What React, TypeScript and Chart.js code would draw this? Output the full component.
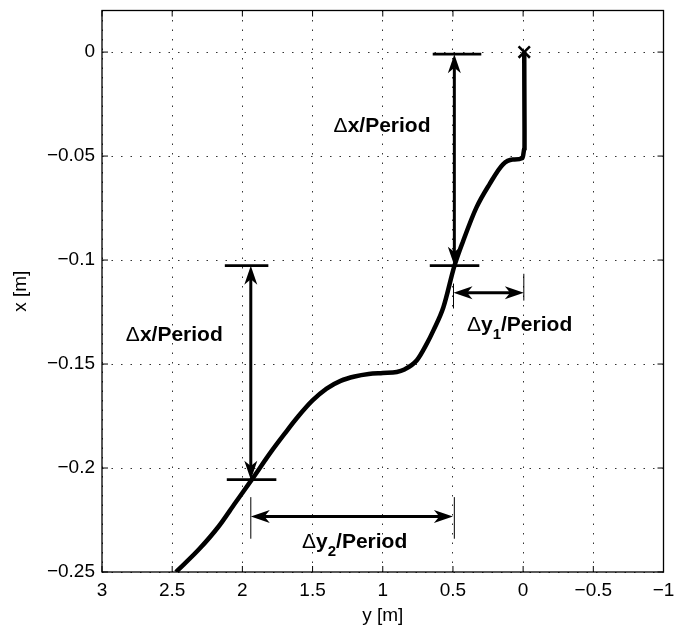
import React, { useEffect, useRef } from "react";
import { Chart, registerables } from "chart.js";

Chart.register(...registerables);

// Axis ticks
const xTicks = [3, 2.5, 2, 1.5, 1, 0.5, 0, -0.5, -1];
const yTicks = [0, -0.05, -0.1, -0.15, -0.2, -0.25];

// Trajectory: horizontal axis "y [m]", vertical axis "x [m]"
const trajY = [2.473, 2.309, 2.168, 2.05, 1.933, 1.8, 1.7, 1.6, 1.5, 1.4, 1.3, 1.2, 1.1, 1.0, 0.9, 0.85, 0.757, 0.686, 0.639, 0.568, 0.489, 0.427, 0.333, 0.24, 0.145, 0.074, 0.004, -0.01, -0.01, -0.008];
const trajX = [-0.25, -0.2391, -0.228, -0.2167, -0.2056, -0.1926, -0.1836, -0.175, -0.1675, -0.1618, -0.1581, -0.156, -0.1548, -0.1543, -0.1538, -0.1528, -0.1482, -0.1402, -0.1338, -0.1227, -0.1027, -0.0908, -0.0748, -0.0636, -0.0541, -0.0517, -0.0509, -0.0461, -0.038, 0];

// End marker
const endY = [-0.008];
const endX = [0];

// Annotation geometry (data coordinates: [y1, x1, y2, x2])
const arrowSegs = [
  [0.49, -0.001, 0.49, -0.1027],
  [1.94, -0.1027, 1.94, -0.2056],
  [1.94, -0.2233, 0.5, -0.2233],
  [0.496, -0.1157, -0.005, -0.1157],
];
const barSegs = [
  [0.644, -0.001, 0.298, -0.001],
  [0.665, -0.1027, 0.312, -0.1027],
  [2.125, -0.1027, 1.815, -0.1027],
  [2.111, -0.2056, 1.758, -0.2056],
];
const thinSegs = [
  [1.94, -0.214, 1.94, -0.234],
  [0.49, -0.214, 0.49, -0.234],
  [0.496, -0.1113, 0.496, -0.1233],
  [-0.005, -0.1066, -0.005, -0.1195],
];

// Labels (left edge, baseline)
const labelMain = ["Δx/Period", "Δx/Period", "Δy", "Δy"];
const labelSub = ["", "", "1", "2"];
const labelRest = ["", "", "/Period", "/Period"];
const labelY = [1.35, 2.83, 0.40, 1.575];
const labelX = [-0.0382, -0.1391, -0.134, -0.2383];

const FAMILY = "'Liberation Sans', Arial, Helvetica, sans-serif";

const fmt = (v: number) => (v < 0 ? "\u2212" : "") + String(Math.abs(v));

function head(ctx: CanvasRenderingContext2D, tx: number, ty: number, fx: number, fy: number, L: number, W: number) {
  const ang = Math.atan2(ty - fy, tx - fx);
  ctx.save();
  ctx.translate(tx, ty);
  ctx.rotate(ang);
  ctx.beginPath();
  ctx.moveTo(0, 0);
  ctx.lineTo(-L, -W / 2);
  ctx.lineTo(-L * 0.72, 0);
  ctx.lineTo(-L, W / 2);
  ctx.closePath();
  ctx.fill();
  ctx.restore();
}

const annotPlugin = {
  id: "annot",
  afterDatasetsDraw(chart: any) {
    const ctx: CanvasRenderingContext2D = chart.ctx;
    const sx = chart.scales.x;
    const sy = chart.scales.y;
    const px = (v: number) => sx.getPixelForValue(v);
    const py = (v: number) => sy.getPixelForValue(v);
    const area = chart.chartArea;
    ctx.save();
    ctx.strokeStyle = "#000";
    ctx.fillStyle = "#000";
    ctx.lineCap = "butt";

    ctx.lineWidth = 1;
    thinSegs.forEach((s) => {
      ctx.beginPath();
      ctx.moveTo(px(s[0]), py(s[1]));
      ctx.lineTo(px(s[2]), py(s[3]));
      ctx.stroke();
    });
    ctx.lineWidth = 2.6;
    barSegs.forEach((s) => {
      ctx.beginPath();
      ctx.moveTo(px(s[0]), py(s[1]));
      ctx.lineTo(px(s[2]), py(s[3]));
      ctx.stroke();
    });
    const L = 19;
    const W = 13;
    ctx.lineWidth = 3;
    arrowSegs.forEach((s) => {
      const x1 = px(s[0]), y1 = py(s[1]), x2 = px(s[2]), y2 = py(s[3]);
      const len = Math.hypot(x2 - x1, y2 - y1);
      const ux = (x2 - x1) / len, uy = (y2 - y1) / len;
      ctx.beginPath();
      ctx.moveTo(x1 + ux * L * 0.7, y1 + uy * L * 0.7);
      ctx.lineTo(x2 - ux * L * 0.7, y2 - uy * L * 0.7);
      ctx.stroke();
      head(ctx, x1, y1, x2, y2, L, W);
      head(ctx, x2, y2, x1, y1, L, W);
    });

    ctx.textBaseline = "alphabetic";
    ctx.textAlign = "left";
    labelMain.forEach((m, i) => {
      let x = px(labelY[i]);
      const y = py(labelX[i]);
      ctx.font = `normal 21px ${FAMILY}`;
      ctx.fillText("Δ", x, y);
      x += ctx.measureText("Δ").width;
      ctx.font = `bold 21px ${FAMILY}`;
      const rest1 = m.slice(1);
      ctx.fillText(rest1, x, y);
      x += ctx.measureText(rest1).width;
      if (labelSub[i]) {
        ctx.font = `bold 15px ${FAMILY}`;
        ctx.fillText(labelSub[i], x, y + 8);
        x += ctx.measureText(labelSub[i]).width;
      }
      if (labelRest[i]) {
        ctx.font = `bold 21px ${FAMILY}`;
        ctx.fillText(labelRest[i], x, y);
      }
    });

    ctx.lineWidth = 1.3;
    ctx.strokeRect(area.left, area.top, area.right - area.left, area.bottom - area.top);
    const tl = 6;
    ctx.lineWidth = 1;
    xTicks.forEach((v) => {
      const x = px(v);
      ctx.beginPath();
      ctx.moveTo(x, area.bottom);
      ctx.lineTo(x, area.bottom - tl);
      ctx.moveTo(x, area.top);
      ctx.lineTo(x, area.top + tl);
      ctx.stroke();
    });
    yTicks.forEach((v) => {
      const y = py(v);
      ctx.beginPath();
      ctx.moveTo(area.left, y);
      ctx.lineTo(area.left + tl, y);
      ctx.moveTo(area.right, y);
      ctx.lineTo(area.right - tl, y);
      ctx.stroke();
    });
    ctx.restore();
  },
};

export default function App() {
  const ref = useRef<HTMLCanvasElement | null>(null);
  useEffect(() => {
    if (!ref.current) return;
    const chart = new Chart(ref.current, {
      type: "scatter",
      data: {
        datasets: [
          {
            data: trajY.map((v, i) => ({ x: v, y: trajX[i] })),
            showLine: true,
            borderColor: "#000",
            backgroundColor: "#000",
            borderWidth: 4.5,
            pointRadius: 0,
            cubicInterpolationMode: "monotone",
            fill: false,
          },
          {
            data: endY.map((v, i) => ({ x: v, y: endX[i] })),
            showLine: false,
            pointStyle: "crossRot",
            pointRadius: 8,
            borderColor: "#000",
            borderWidth: 2.5,
          },
        ],
      } as any,
      options: {
        animation: false,
        responsive: false,
        devicePixelRatio: 1,
        layout: { padding: { top: 9, right: 5, left: 0, bottom: 0 } },
        plugins: { legend: { display: false }, tooltip: { enabled: false } },
        scales: {
          x: {
            type: "linear",
            min: -1,
            max: 3,
            reverse: true,
            position: "bottom",
            afterBuildTicks: (s: any) => {
              s.ticks = xTicks.map((v) => ({ value: v }));
            },
            afterFit: (s: any) => {
              s.height = 60;
              s.paddingLeft = 0;
              s.paddingRight = 0;
            },
            ticks: {
              callback: (v: any) => fmt(Number(v)),
              font: { family: FAMILY, size: 19 },
              color: "#000",
              padding: 7,
              maxRotation: 0,
              autoSkip: false,
            },
            grid: { color: "#333", lineWidth: 1, drawTicks: false },
            border: { display: false, dash: [1.5, 8] },
            title: {
              display: true,
              text: "y [m]",
              font: { family: FAMILY, size: 19 },
              color: "#000",
              padding: { top: 0, bottom: 5 },
            },
          },
          y: {
            type: "linear",
            min: -0.25,
            max: 0.02,
            afterBuildTicks: (s: any) => {
              s.ticks = yTicks.map((v) => ({ value: v }));
            },
            afterFit: (s: any) => {
              s.width = 102;
              s.paddingTop = 0;
              s.paddingBottom = 0;
            },
            ticks: {
              callback: (v: any) => fmt(Number(v)),
              font: { family: FAMILY, size: 19 },
              color: "#000",
              padding: 7,
              autoSkip: false,
            },
            grid: { color: "#333", lineWidth: 1, drawTicks: false },
            border: { display: false, dash: [1.5, 8] },
            title: {
              display: true,
              text: "x [m]",
              font: { family: FAMILY, size: 19 },
              color: "#000",
              padding: { top: 9, bottom: 0 },
            },
          },
        },
      } as any,
      plugins: [annotPlugin],
    });
    return () => chart.destroy();
  }, []);
  return (
    <div style={{ position: "fixed", left: 0, top: 0, width: 674, height: 632, background: "#fff" }}>
      <canvas ref={ref} width={674} height={632} style={{ display: "block" }} />
    </div>
  );
}
